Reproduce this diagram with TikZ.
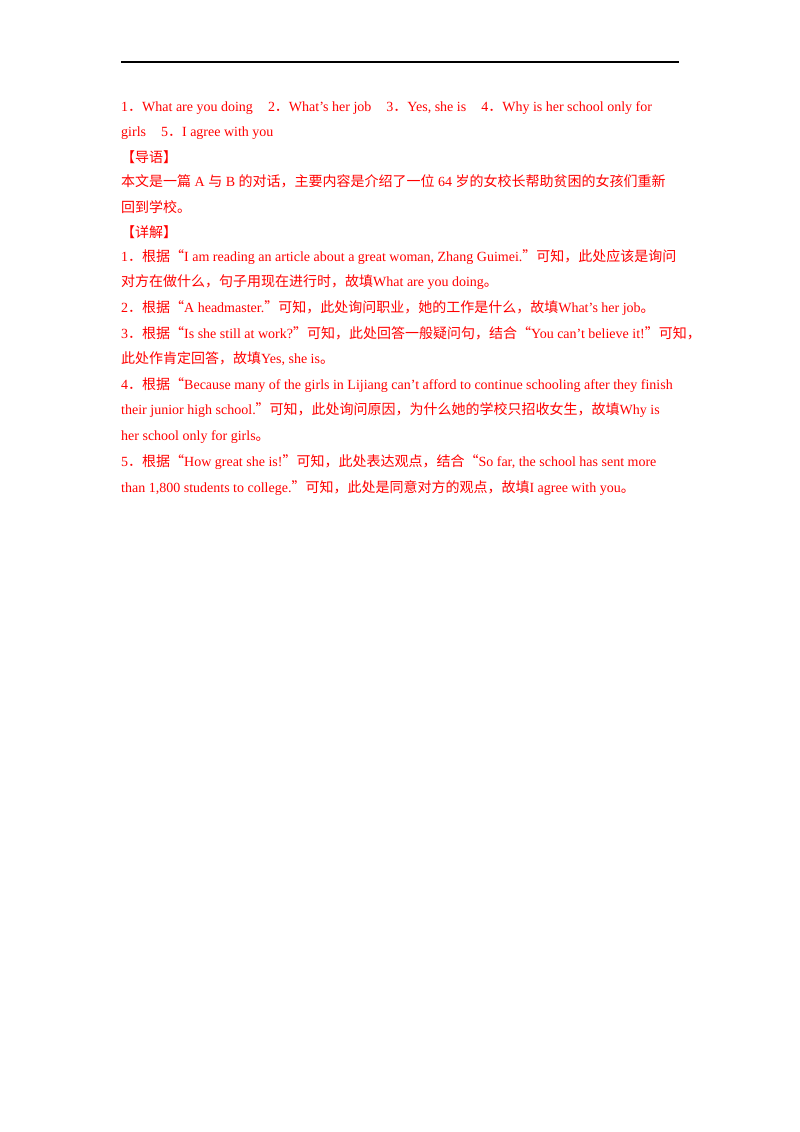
\documentclass[tikz,border=0pt]{standalone}
\usepackage{fontspec}
\setmainfont{Liberation Serif}
\newfontfamily\cjk{Noto Sans CJK SC}
\newcommand\zh[1]{{\cjk #1}}
\begin{document}
\begin{tikzpicture}[x=1pt,y=-1pt,
  ln/.style={anchor=base west,inner sep=0pt,text=red,font=\fontsize{14}{16}\selectfont}]
\useasboundingbox[fill=white] (0,0) rectangle (800,1132);
\draw[line width=1.5pt] (121,62) coordinate (la) -- (679,62) coordinate (lb);
\node[ln] (l1) at (121,111) {1\zh{．}What are you doing\hspace{15pt}2\zh{．}What’s her job\hspace{15pt}3\zh{．}Yes, she is\hspace{15pt}4\zh{．}Why is her school only for};
\node[ln] (l2) at (121,136) {girls\hspace{15pt}5\zh{．}I agree with you};
\node[ln] (l3) at (121,162) {\zh{【导语】}};
\node[ln] (l4) at (121,186) {\zh{本文是一篇} A \zh{与} B \zh{的对话，主要内容是介绍了一位} 64 \zh{岁的女校长帮助贫困的女孩们重新}};
\node[ln] (l5) at (121,212) {\zh{回到学校。}};
\node[ln] (l6) at (121,237) {\zh{【详解】}};
\node[ln] (l7) at (121,261) {1\zh{．根据“}I am reading an article about a great woman, Zhang Guimei.\zh{”可知，此处应该是询问}};
\node[ln] (l8) at (121,286) {\zh{对方在做什么，句子用现在进行时，故填}What are you doing\zh{。}};
\node[ln] (l9) at (121,312) {2\zh{．根据“}A headmaster.\zh{”可知，此处询问职业，她的工作是什么，故填}What’s her job\zh{。}};
\node[ln] (l10) at (121,338) {3\zh{．根据“}Is she still at work?\zh{”可知，此处回答一般疑问句，结合“}You can’t believe it!\zh{”可知，}};
\node[ln] (l11) at (121,363) {\zh{此处作肯定回答，故填}Yes, she is\zh{。}};
\node[ln] (l12) at (121,389) {4\zh{．根据“}Because many of the girls in Lijiang can’t afford to continue schooling after they finish};
\node[ln] (l13) at (121,414) {their junior high school.\zh{”可知，此处询问原因，为什么她的学校只招收女生，故填}Why is};
\node[ln] (l14) at (121,440) {her school only for girls\zh{。}};
\node[ln] (l15) at (121,466) {5\zh{．根据“}How great she is!\zh{”可知，此处表达观点，结合“}So far, the school has sent more};
\node[ln] (l16) at (121,492) {than 1,800 students to college.\zh{”可知，此处是同意对方的观点，故填}I agree with you\zh{。}};
\end{tikzpicture}
\end{document}
